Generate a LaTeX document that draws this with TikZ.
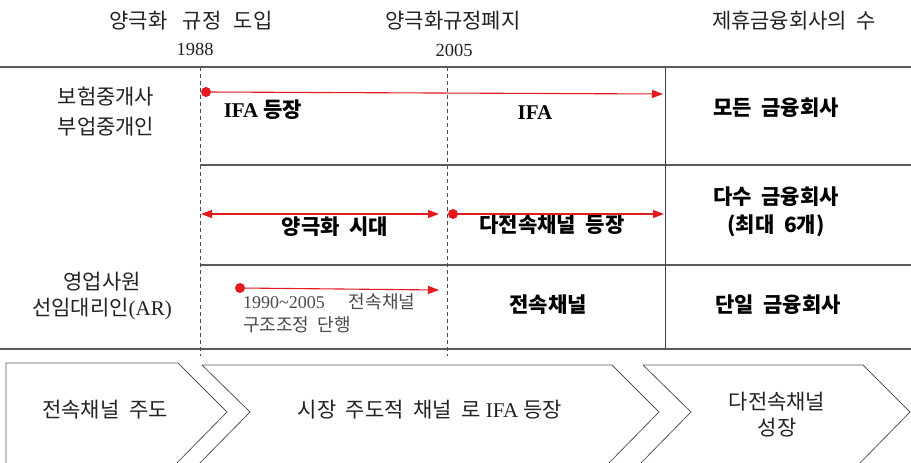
\documentclass[tikz,border=0pt]{standalone}
\usepackage{fontspec}
\setmainfont{Liberation Serif}
\newfontfamily\kr{Noto Sans CJK KR}[WordSpace=2.6]
\newfontfamily\krb{Noto Sans CJK KR}[WordSpace=2]
\usetikzlibrary{arrows.meta}
\definecolor{linegray}{HTML}{5A5A5A}
\definecolor{arrred}{HTML}{E51A1F}
\definecolor{txtdark}{HTML}{222222}
\definecolor{txtsoft}{HTML}{4A4A4A}
\begin{document}
\begin{tikzpicture}[x=1pt,y=-1pt,
  txt/.style={font=\fontsize{21}{24}\selectfont, text=txtdark, inner sep=0pt},
  btxt/.style={font=\fontsize{21}{24}\selectfont\bfseries, text=black, inner sep=0pt},
  smalltxt/.style={font=\fontsize{18}{20}\selectfont, text=txtsoft, inner sep=0pt, anchor=west},
  gridline/.style={linegray, line width=1.3pt},
  vline/.style={black!75, line width=1pt},
  dashline/.style={black!70, line width=0.9pt, dash pattern=on 4pt off 3pt},
  redarr/.style={arrred, line width=1.1pt, -{Triangle[length=11pt,width=8pt]}},
  redboth/.style={arrred, line width=1.1pt, {Triangle[length=11pt,width=8pt]}-{Triangle[length=11pt,width=8pt]}},
  reddot/.style={circle, fill=arrred, inner sep=0pt, minimum size=10pt},
  chev/.style={black!65, line width=0.8pt, line join=miter}
]
\useasboundingbox (0,0) rectangle (911,463);
\fill[white] (0,0) rectangle (911,463);

% grid lines
\draw[gridline] (0,67) -- (911,67);
\draw[gridline] (200,165) -- (911,165);
\draw[gridline] (200,265) -- (911,265);
\draw[gridline] (0,349) -- (911,349);
\draw[vline] (665,67) -- (665,349);
\draw[dashline] (200,67) -- (200,356);
\draw[dashline] (447,67) -- (447,356);

% headers
\node[txt] (h1) at (191,21) {\kr 양극화\hspace{6pt} 규정\hspace{3pt} 도입};
\node[txt, font=\fontsize{18.5}{22}\selectfont] (y1) at (195,49) {1988};
\node[txt] (h2) at (453,21) {\kr 양극화규정폐지};
\node[txt, font=\fontsize{18.5}{22}\selectfont] (y2) at (454,50) {2005};
\node[txt] (h3) at (794,21) {\kr 제휴금융회사의 수};

% left labels
\node[txt] (l1) at (106,97) {\kr 보험중개사};
\node[txt] (l2) at (106,127) {\kr 부업중개인};
\node[txt] (l3) at (102,282) {\kr 영업사원};
\node[txt] (l4) at (102,309) {{\kr 선임대리인}(AR)};

% row texts
\node[btxt] (t1) at (263,110) {IFA {\krb\bfseries 등장}};
\node[btxt] (t2) at (535,113) {IFA};
\node[btxt] (t3) at (335,227) {\krb\bfseries 양극화 시대};
\node[btxt] (t4) at (552,225) {\krb\bfseries 다전속채널 등장};
\node[btxt] (t5) at (548,305) {\krb\bfseries 전속채널};

% right column
\node[btxt] (r1) at (776,108) {\krb\bfseries 모든 금융회사};
\node[btxt] (r2) at (776,197) {\krb\bfseries 다수 금융회사};
\node[btxt] (r3) at (776,226) {\krb\bfseries (최대 6개)};
\node[btxt] (r4) at (778,305) {\krb\bfseries 단일 금융회사};

% small note
\node[smalltxt] (s1) at (243,302) {1990\textasciitilde 2005\hspace{24pt}{\kr 전속채널}};
\node[smalltxt] (s2) at (243,325) {\kr 구조조정 단행};

% red arrows
\node[reddot] (d1) at (206,92) {};
\coordinate (e1) at (663,94);
\draw[redarr] (d1.center) -- (e1);
\coordinate (b1) at (201,214);
\coordinate (b2) at (439,214);
\draw[redboth] (b1) -- (b2);
\node[reddot] (d2) at (453,214) {};
\coordinate (e2) at (664,214);
\draw[redarr] (d2.center) -- (e2);
\node[reddot] (d3) at (240,288) {};
\coordinate (e3) at (439,290);
\draw[redarr] (d3.center) -- (e3);

% chevrons
\draw[chev] (6,466) -- (6,363) -- (178,363) -- (227,412) -- (174,466);
\draw[chev] (202,365) -- (250,412) -- (197,466);
\draw[chev] (202,365) -- (612,365) -- (659,412) -- (606,466);
\draw[chev] (643,365) -- (691,412) -- (638,466);
\draw[chev] (643,365) -- (863,365) -- (910,412) -- (857,466);

\node[txt] (c1) at (105,410) {\kr 전속채널 주도};
\node[txt] (c2) at (430,410) {{\kr 시장 주도적 채널 로} IFA {\kr 등장}};
\node[txt] (c3) at (777,402) {\kr 다전속채널};
\node[txt] (c4) at (777,428) {\kr 성장};
\end{tikzpicture}
\end{document}
